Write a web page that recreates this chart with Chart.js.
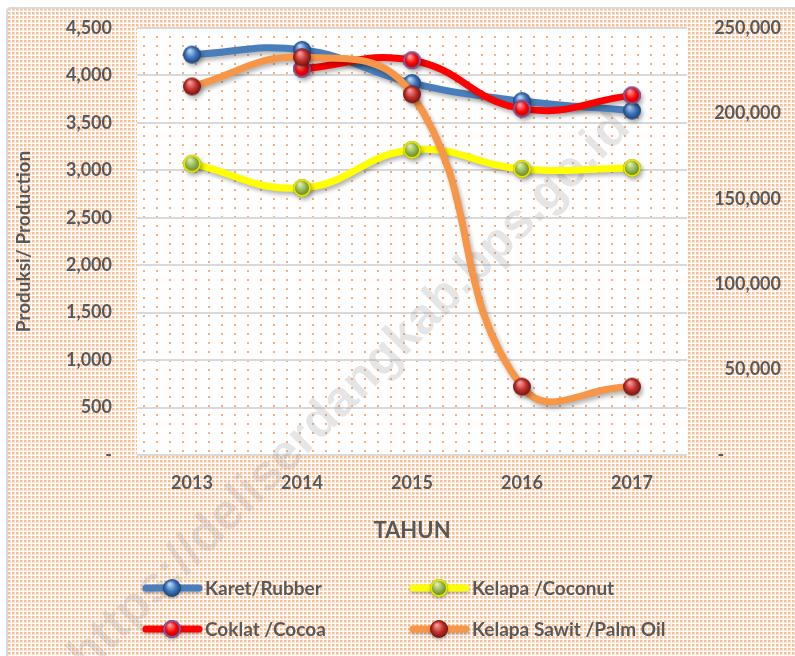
<!DOCTYPE html>
<html>
<head>
<meta charset="utf-8">
<script src="https://cdn.jsdelivr.net/npm/chart.js@4.4.1/dist/chart.umd.min.js"></script>
<style>
  html, body { margin: 0; padding: 0; background: #fff; }
  #wrap { width: 795px; height: 656px; position: relative; }
</style>
</head>
<body>
<div id="wrap"><canvas id="prodChart"></canvas></div>
<script>
// Data
const years = ['2013', '2014', '2015', '2016', '2017'];
const rubber = [4220, 4270, 3920, 3730, 3630];       // left axis
const cocoa = [null, 4070, 4160, 3650, 3790];        // left axis
const coconut = [3070, 2815, 3215, 3015, 3025];      // left axis
const palmOil = [215800, 232900, 211200, 40000, 40000]; // right axis

const leftTicks = { min: 0, max: 4500, step: 500 };
const rightTicks = { min: 0, max: 250000, step: 50000 };

const FONT = 'Lato, "Open Sans", sans-serif';
const TEXT = '#595959';

// little 3D balls like the Excel markers
function makeBall(r, light, mid, dark, ring) {
    const c = document.createElement('canvas');
    const s = Math.ceil(r * 2 + 2);
    c.width = s; c.height = s;
    const g = c.getContext('2d');
    const cx = s / 2, cy = s / 2;
    const grad = g.createRadialGradient(cx - r * 0.25, cy - r * 0.45, r * 0.1, cx, cy, r);
    grad.addColorStop(0, light);
    grad.addColorStop(0.55, mid);
    grad.addColorStop(1, dark);
    g.fillStyle = grad;
    g.beginPath(); g.arc(cx, cy, r, 0, Math.PI * 2); g.fill();
    if (ring) {
        g.lineWidth = 2;
        g.strokeStyle = ring;
        g.beginPath(); g.arc(cx, cy, r - 1, 0, Math.PI * 2); g.stroke();
    }
    return c;
}

const balls = {
    rubber: makeBall(9, '#b4d0f2', '#3c74bb', '#1c4276'),
    cocoa: makeBall(9, '#ff9a9a', '#ff0000', '#a80000', '#7a5a9e'),
    coconut: makeBall(9, '#dbeab0', '#8db04a', '#567518', '#e6e600'),
    palm: makeBall(9, '#f29a9a', '#c2302b', '#701212')
};

function makeTile(w, h, dot, color, halo) {
    const c = document.createElement('canvas');
    c.width = w; c.height = h;
    const g = c.getContext('2d');
    g.fillStyle = '#fff'; g.fillRect(0, 0, w, h);
    if (halo) { g.fillStyle = halo; g.fillRect(0, 0, dot + 1, dot + 1); }
    g.fillStyle = color; g.fillRect(0, 0, dot, dot);
    return c;
}
const outerTile = makeTile(4, 4, 2, '#f8bf96', '#fde0ca');
const innerTile = makeTile(13, 9, 2, '#f6b07e');

const legendItems = [
    { label: 'Karet/Rubber', color: '#4a7ebb', ball: balls.rubber, x: 143, y: 588 },
    { label: 'Kelapa /Coconut', color: '#ffff00', ball: balls.coconut, x: 410, y: 588 },
    { label: 'Coklat /Cocoa', color: '#ff0000', ball: balls.cocoa, x: 143, y: 629 },
    { label: 'Kelapa Sawit /Palm Oil', color: '#f79646', ball: balls.palm, x: 410, y: 629 }
];

const decor = {
    id: 'decor',
    beforeDraw(chart) {
        const { ctx, chartArea: a, width, height } = chart;
        ctx.save();
        ctx.fillStyle = '#fff';
        ctx.fillRect(0, 0, width, height);
        ctx.fillStyle = ctx.createPattern(outerTile, 'repeat');
        ctx.fillRect(8, 9, width - 8, height - 9);
        ctx.strokeStyle = '#d9d9d9';
        ctx.lineWidth = 2;
        ctx.beginPath();
        ctx.moveTo(7, height);
        ctx.lineTo(7, 12);
        ctx.quadraticCurveTo(7, 8, 11, 8);
        ctx.lineTo(width, 8);
        ctx.stroke();
        ctx.fillStyle = '#fff';
        ctx.fillRect(a.left, a.top, a.width, a.height);
        ctx.fillStyle = ctx.createPattern(innerTile, 'repeat');
        ctx.fillRect(a.left, a.top, a.width, a.height);
        ctx.restore();
    },
    beforeDatasetsDraw(chart) {
        // site watermark
        const ctx = chart.ctx;
        ctx.save();
        ctx.translate(350, 392);
        ctx.rotate(-Math.PI / 4);
        ctx.font = 'bold 50px "Liberation Sans", Arial, sans-serif';
        ctx.fillStyle = 'rgba(150,150,150,0.25)';
        ctx.textAlign = 'center';
        ctx.textBaseline = 'middle';
        ctx.fillText('https://deliserdangkab.bps.go.id', 0, 0);
        ctx.restore();
    },
    beforeDatasetDraw(chart) {
        const ctx = chart.ctx;
        ctx.save();
        ctx.shadowColor = 'rgba(0,0,0,0.3)';
        ctx.shadowBlur = 4;
        ctx.shadowOffsetX = 2;
        ctx.shadowOffsetY = 3;
    },
    afterDatasetDraw(chart) {
        chart.ctx.restore();
    },
    afterDraw(chart) {
        const ctx = chart.ctx;
        ctx.save();
        legendItems.forEach(it => {
            ctx.shadowColor = 'rgba(0,0,0,0.25)';
            ctx.shadowBlur = 3;
            ctx.shadowOffsetY = 2;
            ctx.strokeStyle = it.color;
            ctx.lineWidth = 7;
            ctx.lineCap = 'round';
            ctx.beginPath();
            ctx.moveTo(it.x + 3, it.y);
            ctx.lineTo(it.x + 56, it.y);
            ctx.stroke();
            ctx.drawImage(it.ball, it.x + 29 - it.ball.width / 2, it.y - it.ball.height / 2);
            ctx.shadowColor = 'transparent';
            ctx.fillStyle = TEXT;
            ctx.font = 'bold 19px ' + FONT;
            ctx.textBaseline = 'middle';
            ctx.textAlign = 'left';
            ctx.fillText(it.label, it.x + 62, it.y + 1);
        });
        ctx.restore();
    }
};

const lineStyle = {
    borderWidth: 7,
    tension: 0.45,
    fill: false,
    clip: false,
    borderCapStyle: 'round',
    borderJoinStyle: 'round',
    pointRadius: 9,
    pointHoverRadius: 9
};

const ctx = document.getElementById('prodChart').getContext('2d');
new Chart(ctx, {
    type: 'line',
    data: {
        labels: years,
        datasets: [
            { ...lineStyle, label: 'Karet/Rubber', data: rubber, yAxisID: 'y', borderColor: '#4a7ebb', pointStyle: balls.rubber, order: 3 },
            { ...lineStyle, label: 'Coklat /Cocoa', data: cocoa, yAxisID: 'y', borderColor: '#ff0000', pointStyle: balls.cocoa, order: 2 },
            { ...lineStyle, label: 'Kelapa /Coconut', data: coconut, yAxisID: 'y', borderColor: '#ffff00', pointStyle: balls.coconut, order: 1 },
            { ...lineStyle, label: 'Kelapa Sawit /Palm Oil', data: palmOil, yAxisID: 'y2', borderColor: '#f79646', pointStyle: balls.palm, order: 0 }
        ]
    },
    options: {
        responsive: true,
        maintainAspectRatio: false,
        animation: false,
        layout: { padding: { top: 28, right: 14, bottom: 110, left: 0 } },
        scales: {
            x: {
                offset: true,
                grid: { display: false, drawTicks: false },
                border: { display: false },
                ticks: { color: TEXT, font: { family: FONT, size: 18, weight: 'bold' }, padding: 17 },
                title: {
                    display: true,
                    text: 'TAHUN',
                    color: TEXT,
                    font: { family: FONT, size: 22, weight: 'bold' },
                    padding: { top: 0, bottom: 2 }
                },
                afterFit: s => { s.height = 91; }
            },
            y: {
                position: 'left',
                min: leftTicks.min,
                max: leftTicks.max,
                grid: { color: '#d9d9d9', lineWidth: 2, drawTicks: false },
                border: { display: false },
                ticks: {
                    stepSize: leftTicks.step,
                    color: TEXT,
                    padding: 25,
                    font: { family: FONT, size: 18, weight: 'bold' },
                    callback: v => v === 0 ? '-' : v.toLocaleString('en-US')
                },
                title: {
                    display: true,
                    text: 'Produksi/ Production',
                    color: TEXT,
                    font: { family: FONT, size: 19, weight: 'bold' },
                    padding: { top: 12, bottom: 0 }
                },
                afterFit: s => { s.width = 137; s.paddingTop = 0; s.paddingBottom = 0; }
            },
            y2: {
                position: 'right',
                min: rightTicks.min,
                max: rightTicks.max,
                grid: { display: false, drawTicks: false },
                border: { display: false },
                ticks: {
                    stepSize: rightTicks.step,
                    color: TEXT,
                    crossAlign: 'far',
                    font: { family: FONT, size: 18, weight: 'bold' },
                    callback: v => v === 0 ? '-' + ' '.repeat(13) : v.toLocaleString('en-US')
                },
                afterFit: s => { s.width = 94; s.paddingTop = 0; s.paddingBottom = 0; }
            }
        },
        plugins: {
            legend: { display: false },
            tooltip: { enabled: false }
        }
    },
    plugins: [decor]
});
</script>
</body>
</html>
